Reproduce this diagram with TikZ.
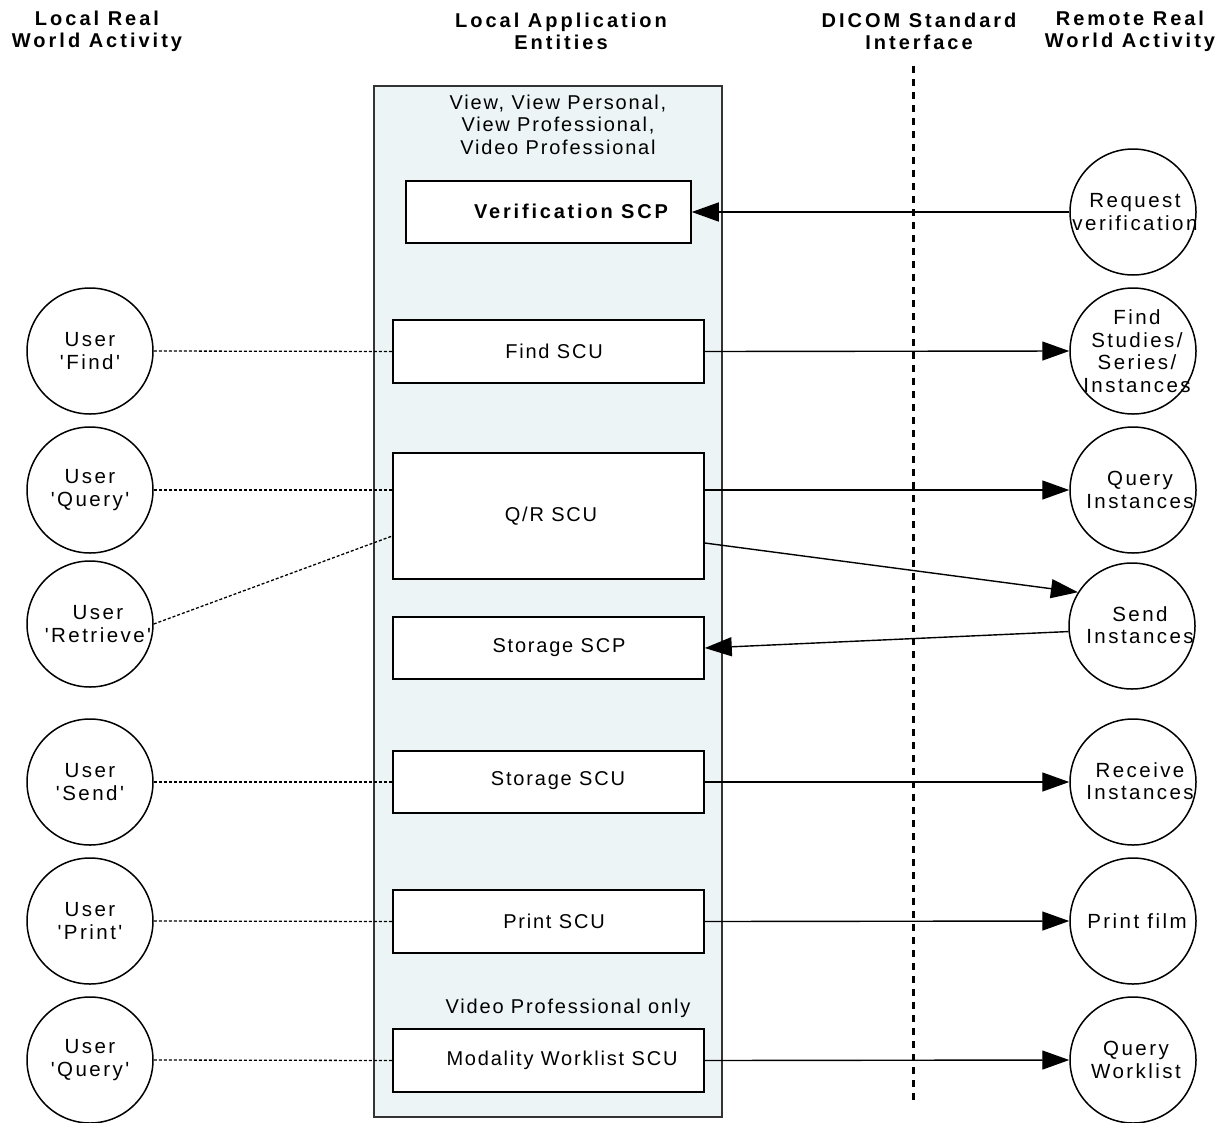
\documentclass[tikz,border=0pt]{standalone}
\usepackage{fontspec}
\setmainfont{Liberation Sans}[LetterSpace=9, Ligatures=TeXOff]
\newfontfamily\headfont{Liberation Sans}[LetterSpace=15, Ligatures=TeXOff]
\newfontfamily\boxbold{Liberation Sans}[LetterSpace=14, Ligatures=TeXOff]
\newfontfamily\actorfont{Liberation Sans}[LetterSpace=12, Ligatures=TeXOff]
\usetikzlibrary{arrows.meta}
\definecolor{panelfill}{HTML}{ECF4F6}
\definecolor{panelline}{HTML}{333333}
\begin{document}
\begin{tikzpicture}[x=1pt,y=-1pt,
  txt/.style={font=\fontsize{20}{22.5}\selectfont, align=center, inner sep=0pt},
  atxt/.style={font=\actorfont\fontsize{20.5}{22.5}\selectfont, align=center, inner sep=0pt},
  head/.style={font=\headfont\bfseries\fontsize{20}{22}\selectfont, align=center, inner sep=0pt},
  panel/.style={draw=panelline, fill=panelfill, line width=1.5pt, minimum width=348pt, minimum height=1031pt, inner sep=0pt},
  entbox/.style={draw, fill=white, line width=1.5pt, minimum width=311pt, minimum height=63pt, inner sep=0pt},
  actor/.style={draw, fill=white, circle, line width=1.5pt, minimum size=126pt, inner sep=0pt},
  flow/.style={-{Triangle[length=27pt,width=19pt]}, line width=1.4pt},
  link/.style={line width=1.3pt, dash pattern=on 3pt off 2pt},
  iface/.style={line width=3pt, dash pattern=on 7pt off 6pt}
]
\useasboundingbox (0,0) rectangle (1218,1122);

% headings
\node[head] (h1) at (97,31) {Local Real\\World Activity};
\node[head] (h2) at (561,31) {Local Application\\Entities};
\node[head] (h3) at (919,31) {DICOM Standard\\Interface};
\node[head] (h4) at (1130,31) {Remote Real\\World Activity};

% application entity panel
\node[panel] (ae) at (548,601.5) {};
\node[txt] (aetitle) at (558,124.5) {View, View Personal,\\View Professional,\\Video Professional};
\node[txt] (vponly) at (568,1008) {Video Professional only};

% entity boxes
\node[entbox, minimum width=285pt, minimum height=62pt] (ver) at (548.5,212) {};
\node[entbox] (find) at (548.5,351.5) {};
\node[entbox, minimum height=126pt] (qr) at (548.5,516) {};
\node[entbox, minimum height=62pt] (ssp) at (548.5,648) {};
\node[entbox, minimum height=62pt] (ssu) at (548.5,782) {};
\node[entbox] (prt) at (548.5,921.5) {};
\node[entbox] (mwl) at (548.5,1060.5) {};

\node[txt, font=\boxbold\bfseries\fontsize{20}{22}\selectfont] (ver-t) at (571,211) {Verification SCP};
\node[txt] (find-t) at (554,351) {Find SCU};
\node[txt] (qr-t) at (551,516) {Q/R SCU};
\node[txt] (ssp-t) at (559,648) {Storage SCP};
\node[txt] (ssu-t) at (558,781) {Storage SCU};
\node[txt] (prt-t) at (554,921) {Print SCU};
\node[txt] (mwl-t) at (562,1060) {Modality Worklist SCU};

% local actors
\node[actor] (uf) at (90,351) {};
\node[actor] (uq) at (90,490) {};
\node[actor] (ur) at (90,624) {};
\node[actor] (us) at (90,782) {};
\node[actor] (up) at (90,921) {};
\node[actor] (uw) at (90,1060) {};
\node[atxt] (uf-t) at (uf) {User\\'Find'};
\node[atxt] (uq-t) at (uq) {User\\'Query'};
\node[atxt] (ur-t) at (98,624) {User\\'Retrieve'};
\node[atxt] (us-t) at (us) {User\\'Send'};
\node[atxt] (up-t) at (up) {User\\'Print'};
\node[atxt] (uw-t) at (uw) {User\\'Query'};

% remote actors
\node[actor] (rv) at (1133,212) {};
\node[actor] (rf) at (1133,351) {};
\node[actor] (rq) at (1133,490) {};
\node[actor] (rs) at (1132,626) {};
\node[actor] (rr) at (1133,782) {};
\node[actor] (rp) at (1133,921) {};
\node[actor] (rw) at (1133,1060) {};
\node[atxt] (rv-t) at (1135,212) {Request\\verification};
\node[atxt] (rf-t) at (1137,351) {Find\\Studies/\\Series/\\Instances};
\node[atxt] (rq-t) at (1140,490) {Query\\Instances};
\node[atxt] (rs-t) at (1140,625) {Send\\Instances};
\node[atxt] (rr-t) at (1140,781) {Receive\\Instances};
\node[atxt] (rp-t) at (1137,921) {Print film};
\node[atxt] (rw-t) at (1136,1060) {Query\\Worklist};

% local links
\draw[link] (uf.east) -- (find.west);
\draw[link] (uq.east) -- ([yshift=26pt]qr.west);
\draw[link] (ur.east) -- ([yshift=-20pt]qr.west);
\draw[link] (us.east) -- (ssu.west);
\draw[link] (up.east) -- (prt.west);
\draw[link] (uw.east) -- (mwl.west);

% DICOM interface
\coordinate (ifTop) at (913,66);
\coordinate (ifBot) at (913,1100);

% remote flows
\draw[flow] (rv.west) -- (ver.east);
\draw[flow] (find.east) -- (rf.west);
\draw[flow] ([yshift=26pt]qr.east) -- (rq.west);
\draw[flow] ([yshift=-27pt]qr.east) -- (rs.148);
\draw[flow] (rs.185) -- (ssp.east);
\draw[flow] (ssu.east) -- (rr.west);
\draw[flow] (prt.east) -- (rp.west);
\draw[flow] (mwl.east) -- (rw.west);

\draw[iface] (ifTop) -- (ifBot);
\end{tikzpicture}
\end{document}
